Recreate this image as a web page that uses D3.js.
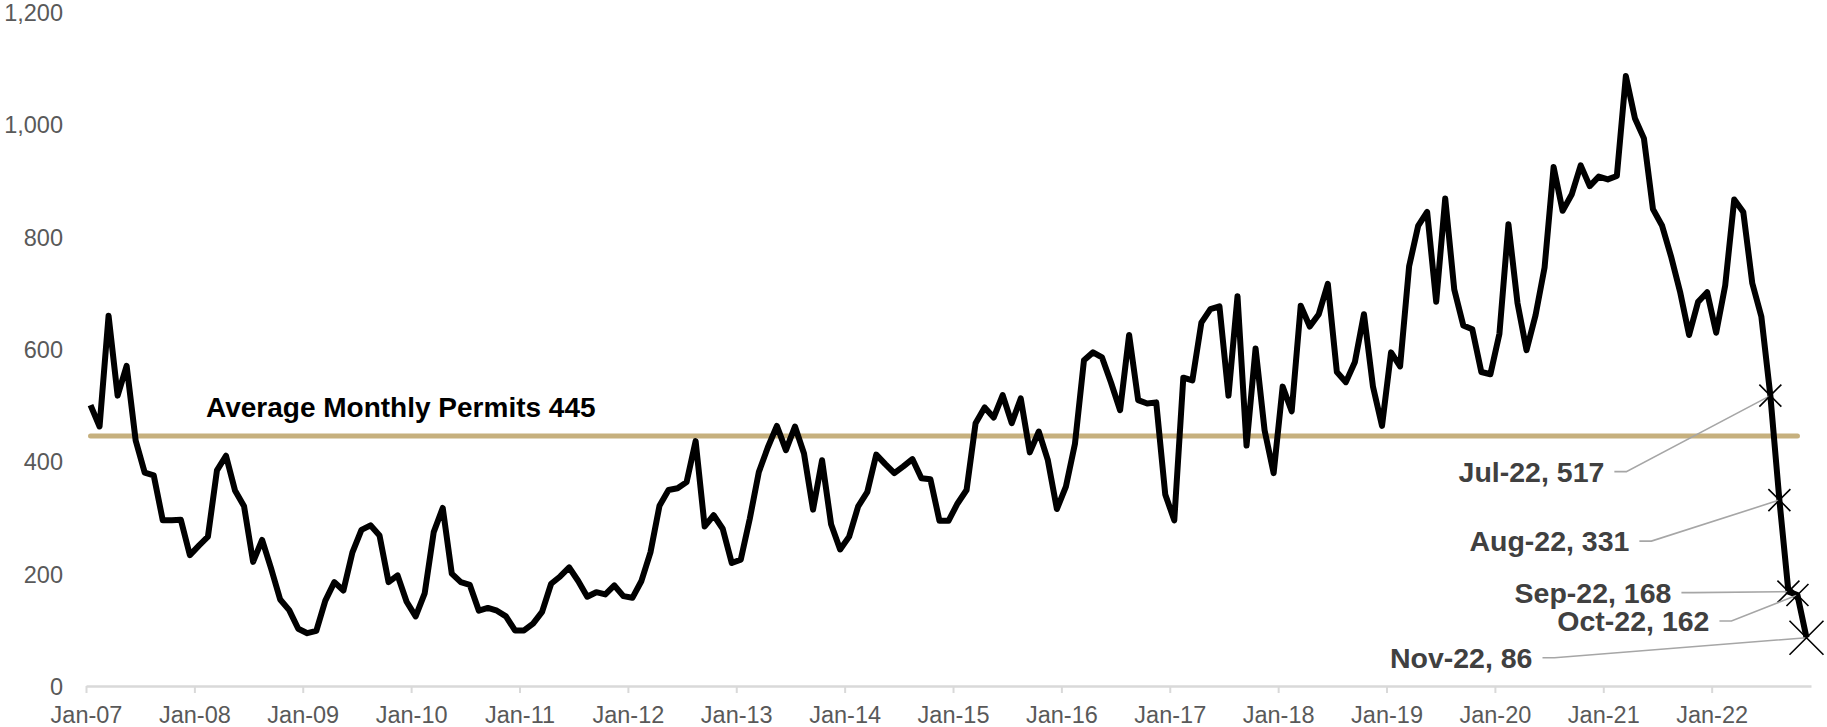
<!DOCTYPE html>
<html>
<head>
  <title>Monthly Permits</title>
  <script src="https://d3js.org/d3.v7.min.js"></script>
  <style>
    body { margin: 0; background: #fff; }
    svg { font-family: "Liberation Sans", Arial, sans-serif; }
    .axis-label { font-size: 23.5px; fill: #595959; }
    .avg-label { font-size: 28px; font-weight: bold; fill: #000; }
    .note-label { font-size: 28.5px; font-weight: bold; fill: #404040; }
  </style>
</head>
<body>
  <svg width="1827" height="727"></svg>

  <script>
    // Monthly permits, Jan-07 .. Nov-22
    const permits = [
      500, 462, 659, 517, 570, 437, 380, 375, 295, 295, 296, 233,   // 2007
      250, 266, 384, 410, 348, 320, 221, 260, 209, 154, 135, 102,   // 2008
      94, 98, 152, 185, 170, 238, 278, 286, 268, 185, 197, 150,     // 2009
      124, 165, 274, 317, 200, 185, 180, 134, 139, 134, 124, 99,    // 2010
      99, 111, 132, 182, 195, 211, 187, 159, 167, 163, 179, 160,    // 2011
      157, 187, 238, 321, 349, 352, 363, 436, 284, 304, 280, 219,   // 2012
      225, 298, 381, 425, 463, 420, 462, 414, 314, 402, 288, 243,   // 2013
      266, 320, 345, 412, 395, 379, 391, 404, 370, 368, 294, 294,   // 2014
      325, 349, 468, 496, 478, 518, 468, 512, 416, 453, 402, 315,   // 2015
      355, 431, 580, 594, 585, 540, 491, 625, 509, 503, 505, 341,   // 2016
      295, 549, 544, 647, 671, 676, 517, 694, 428, 601, 455, 379,   // 2017
      533, 489, 677, 640, 662, 716, 559, 541, 577, 662, 533, 463,   // 2018
      594, 569, 747, 819, 844, 684, 868, 706, 642, 635, 559, 555,   // 2019
      627, 822, 682, 598, 660, 745, 924, 846, 875, 927, 890, 907,   // 2020
      902, 908, 1086, 1011, 975, 849, 820, 765, 702, 625, 684, 701, // 2021
      629, 713, 866, 844, 717, 658, 517, 331, 168, 162, 86          // 2022
    ];

    const averagePermits = 445;
    const averageSpan = ["Jan-07", "Oct-22"];
    const averageText = "Average Monthly Permits 445";

    const tickLabels = ["Jan-07", "Jan-08", "Jan-09", "Jan-10", "Jan-11", "Jan-12", "Jan-13", "Jan-14",
                        "Jan-15", "Jan-16", "Jan-17", "Jan-18", "Jan-19", "Jan-20", "Jan-21", "Jan-22"];
    const yTicks = [0, 200, 400, 600, 800, 1000, 1200];

    const callouts = ["Jul-22", "Aug-22", "Sep-22", "Oct-22", "Nov-22"];

    // month categories
    const fmt = d3.timeFormat("%b-%y");
    const months = d3.timeMonth.range(new Date(2007, 0, 1), new Date(2007, permits.length, 1)).map(fmt);

    const svg = d3.select("svg");

    // x: month index, points sit mid-month; axis runs to Dec-22
    const x = d3.scaleLinear().domain([0, 191]).range([86, 1811]);
    const y = d3.scaleLinear().domain([0, 1200]).range([686, 12]);
    const px = i => x(i + 0.5);

    // y axis labels (no line)
    const yAxis = svg.append("g")
      .attr("transform", "translate(63,0)")
      .call(d3.axisLeft(y).tickValues(yTicks).tickSize(0).tickPadding(0).tickFormat(d3.format(",")));
    yAxis.select(".domain").remove();
    yAxis.selectAll("text").attr("class", "axis-label").attr("dy", "0.36em");

    // x axis
    const xAxis = svg.append("g")
      .attr("transform", "translate(0,686)")
      .call(d3.axisBottom(x)
        .tickValues(tickLabels.map(l => months.indexOf(l)))
        .tickFormat((d, i) => tickLabels[i])
        .tickSizeInner(7).tickSizeOuter(0).tickPadding(13));
    xAxis.select(".domain").attr("stroke", "#d9d9d9").attr("stroke-width", 2.5);
    xAxis.selectAll(".tick line").attr("stroke", "#d9d9d9").attr("stroke-width", 2);
    xAxis.selectAll("text").attr("class", "axis-label");

    // average line
    const a0 = months.indexOf(averageSpan[0]), a1 = months.indexOf(averageSpan[1]);
    svg.append("line")
      .attr("x1", px(a0)).attr("x2", px(a1))
      .attr("y1", y(averagePermits)).attr("y2", y(averagePermits))
      .attr("stroke", "#c6b07e").attr("stroke-width", 5).attr("stroke-linecap", "round");

    svg.append("text")
      .attr("class", "avg-label")
      .attr("x", 206).attr("y", y(averagePermits) - 19)
      .text(averageText);

    // permits line
    const line = d3.line().x((d, i) => px(i)).y(d => y(d));
    svg.append("path")
      .datum(permits)
      .attr("fill", "none")
      .attr("stroke", "#000")
      .attr("stroke-width", 6)
      .attr("stroke-linejoin", "round")
      .attr("d", line);

    // callouts: label offset from point
    const notePos = {
      "Jul-22": [-166, 76],
      "Aug-22": [-150, 41],
      "Sep-22": [-117, 1],
      "Oct-22": [-88, 26],
      "Nov-22": [-274, 20]
    };

    callouts.forEach((m, k) => {
      const i = months.indexOf(m);
      const cx = px(i), cy = y(permits[i]);
      const [dx, dy] = notePos[m];
      const tx = cx + dx, ty = cy + dy;
      const r = k === callouts.length - 1 ? 17 : 11;

      svg.append("path")
        .attr("fill", "none")
        .attr("stroke", "#a6a6a6")
        .attr("stroke-width", 1.6)
        .attr("d", d3.line()([[tx + 10, ty], [tx + 22, ty], [cx, cy]]));

      svg.append("path")
        .attr("stroke", "#000")
        .attr("stroke-width", 1.6)
        .attr("d", `M${cx - r},${cy - r}L${cx + r},${cy + r}M${cx - r},${cy + r}L${cx + r},${cy - r}`);

      svg.append("text")
        .attr("class", "note-label")
        .attr("x", tx).attr("y", ty)
        .attr("dy", "0.36em")
        .attr("text-anchor", "end")
        .text(`${m}, ${permits[i]}`);
    });
  </script>
</body>
</html>
